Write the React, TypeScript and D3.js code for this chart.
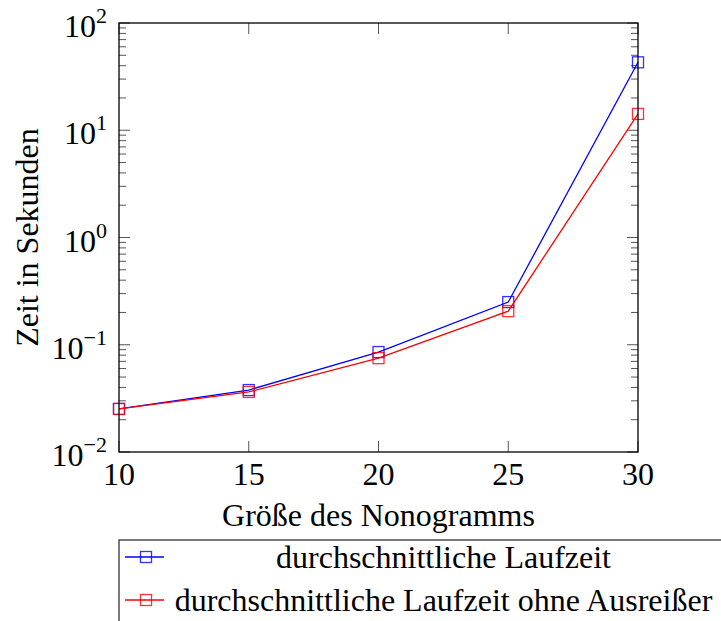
import React from "react";
import * as d3 from "d3";

const sizes = [10, 15, 20, 25, 30];
const avgTime = [0.0252, 0.0378, 0.0855, 0.25, 43];
const avgTimeNoOutliers = [0.0252, 0.0363, 0.075, 0.206, 14.2];
const xTicks = [10, 15, 20, 25, 30];
const yExponents = [-2, -1, 0, 1, 2];
const seriesNames = ["durchschnittliche Laufzeit", "durchschnittliche Laufzeit ohne Ausreißer"];
const seriesColors = ["#0000ff", "#ff0000"];

const W = 721;
const H = 621;
const L = 119, R = 638, T = 23, B = 452;
const FONT = "Liberation Serif";

function Txt(props: any) {
  const { children, ...rest } = props;
  return (
    <text fontFamily={FONT} style={{ fontFamily: FONT }} fill="#000" {...rest}>
      {children}
    </text>
  );
}

export default function App() {
  const x = d3.scaleLinear().domain([10, 30]).range([L, R]);
  const y = d3.scaleLog().domain([0.01, 100]).range([B, T]);
  const line = d3
    .line<[number, number]>()
    .x((d) => x(d[0]))
    .y((d) => y(d[1]));

  const series = [avgTime, avgTimeNoOutliers].map((vals) =>
    sizes.map((s, i) => [s, vals[i]] as [number, number])
  );

  const minor: number[] = [];
  for (let e = -2; e < 2; e++) {
    for (let m = 2; m <= 9; m++) minor.push(m * Math.pow(10, e));
  }

  const ms = 5.5;
  const tickCol = "#555";

  return (
    <svg width={W} height={H} style={{ position: "absolute", left: 0, top: 0 }}>
      <style>{`text, tspan { font-family: "Liberation Serif", "Times New Roman", serif; }`}</style>
      <rect x={0} y={0} width={W} height={H} fill="#fff" />
      {minor.map((v, i) => (
        <g key={"mn" + i} stroke={tickCol} strokeWidth={1}>
          <line x1={L} x2={L + 7} y1={y(v)} y2={y(v)} />
          <line x1={R} x2={R - 7} y1={y(v)} y2={y(v)} />
        </g>
      ))}
      {yExponents.map((e) => {
        const v = Math.pow(10, e);
        return (
          <g key={"mj" + e}>
            <line x1={L} x2={L + 11} y1={y(v)} y2={y(v)} stroke={tickCol} strokeWidth={1} />
            <line x1={R} x2={R - 11} y1={y(v)} y2={y(v)} stroke={tickCol} strokeWidth={1} />
            <Txt x={107} y={y(v) + 14} textAnchor="end" fontSize={32}>
              10
              <tspan fontSize={22} dy={-14}>
                {e < 0 ? "\u2212" + Math.abs(e) : String(e)}
              </tspan>
            </Txt>
          </g>
        );
      })}
      {xTicks.map((t) => (
        <g key={"xt" + t}>
          <line x1={x(t)} x2={x(t)} y1={B} y2={B - 11} stroke={tickCol} strokeWidth={1} />
          <line x1={x(t)} x2={x(t)} y1={T} y2={T + 11} stroke={tickCol} strokeWidth={1} />
          <Txt x={x(t)} y={485} textAnchor="middle" fontSize={32}>
            {t}
          </Txt>
        </g>
      ))}
      {series.map((pts, si) => (
        <g key={"s" + si}>
          <path d={line(pts) || ""} fill="none" stroke={seriesColors[si]} strokeWidth={1.3} />
          {pts.map((p, pi) => (
            <rect
              key={pi}
              x={x(p[0]) - ms}
              y={y(p[1]) - ms}
              width={2 * ms}
              height={2 * ms}
              fill="none"
              stroke={seriesColors[si]}
              strokeWidth={1.3}
              strokeOpacity={0.8}
            />
          ))}
        </g>
      ))}
      <rect x={L} y={T} width={R - L} height={B - T} fill="none" stroke="#000" strokeWidth={1.3} />
      <Txt x={(L + R) / 2} y={526} textAnchor="middle" fontSize={32}>
        Größe des Nonogramms
      </Txt>
      <Txt transform={`translate(38, ${(T + B) / 2}) rotate(-90)`} textAnchor="middle" fontSize={32}>
        Zeit in Sekunden
      </Txt>
      <rect x={119} y={540} width={620} height={100} fill="#fff" stroke="#333" strokeWidth={1.3} />
      {seriesNames.map((name, i) => {
        const cy = 557 + i * 43;
        return (
          <g key={"lg" + i}>
            <line x1={125} x2={164} y1={cy} y2={cy} stroke={seriesColors[i]} strokeWidth={1.3} />
            <rect
              x={146 - ms}
              y={cy - ms}
              width={2 * ms}
              height={2 * ms}
              fill="none"
              stroke={seriesColors[i]}
              strokeWidth={1.3}
              strokeOpacity={0.8}
            />
            <Txt x={443.5} y={cy + 11} textAnchor="middle" fontSize={32}>
              {name}
            </Txt>
          </g>
        );
      })}
    </svg>
  );
}
